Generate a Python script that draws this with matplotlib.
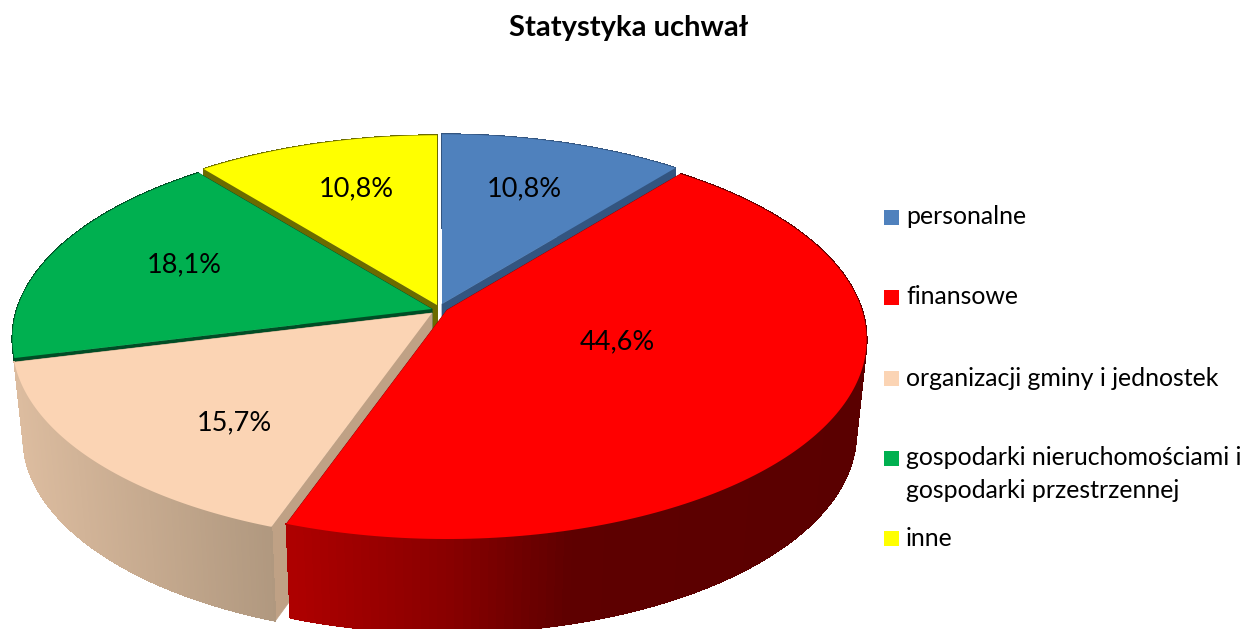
import numpy as np
import matplotlib
matplotlib.use("Agg")
import matplotlib.pyplot as plt
from matplotlib.collections import LineCollection, PolyCollection
from matplotlib.colors import to_rgb
from matplotlib.patches import Rectangle

# ── data ───────────────────────────────────────────────────────────────────────
TITLE = "Statystyka uchwał"
CATEGORIES = [
    "personalne",
    "finansowe",
    "organizacji gminy i jednostek",
    "gospodarki nieruchomościami i\ngospodarki przestrzennej",
    "inne",
]
VALUES = [10.8, 44.6, 15.7, 18.1, 10.8]

# ── styling ────────────────────────────────────────────────────────────────────
COLORS = ["#4F81BD", "#FF0000", "#FBD4B4", "#00B050", "#FFFF00"]
SIDE_COLORS = ["#335580", "#8A0000", "#BFA185", "#004D25", "#6B6B00"]
# outer wall shading: screen x stops, colours from left to right
WALL_STOPS = {
    1: ([288, 450, 570, 860], ["#AE0000", "#880000", "#5E0000", "#5A0000"]),
    2: ([15, 272], ["#DCBC9F", "#B0987F"]),
}
OFFSETS = [(5, -1), (10, 5), (-5, 8), (-5, 4), (0, 0)]   # slice shift in pixels
LABEL_POS = [(524, 189), (617, 342), (234, 423), (184, 265), (356, 189)]
LEGEND_Y = [217, 297, 378, 458, 538]
DRAW_ORDER = [4, 0, 3, 2, 1]   # back to front

CX, CY = 437, 305
A, B, K = 415, 195, 0.1485     # perspective ellipse
H = 94                         # wall height at the centre
BOTTOM_SX, BOTTOM_SY = 0.975, 1.0

plt.rcParams["font.family"] = ["Lato", "DejaVu Sans"]


def project(theta, r, i, bottom=False):
    u = r * np.sin(theta)
    v = r * np.cos(theta)
    w = 1 + K * v
    sx = BOTTOM_SX if bottom else 1.0
    sy = BOTTOM_SY if bottom else 1.0
    x = CX + OFFSETS[i][0] + sx * A * u / w
    y = CY + OFFSETS[i][1] - sy * B * v / w + (H if bottom else 0)
    return x, y


def wall_colors(i, xs):
    if i not in WALL_STOPS:
        return np.array([to_rgb(SIDE_COLORS[i])] * len(xs))
    stops, cols = WALL_STOPS[i]
    rgb = np.array([to_rgb(c) for c in cols])
    return np.column_stack([np.interp(xs, stops, rgb[:, n]) for n in range(3)])


def draw_slice(ax, i, t0, t1):
    theta = np.linspace(t0, t1, 160)
    xt, yt = project(theta, 1.0, i)
    xb, yb = project(theta, 1.0, i, bottom=True)
    apex_t = project(0.0, 0.0, i)
    apex_b = project(0.0, 0.0, i, bottom=True)

    # radial faces
    for n in (0, -1):
        ax.fill([apex_t[0], xt[n], xb[n], apex_b[0]],
                [apex_t[1], yt[n], yb[n], apex_b[1]],
                color=SIDE_COLORS[i], lw=0.5, zorder=2)

    # outer wall, cut into strips for the gradient (no AA or the seams show)
    quads = [[(xt[n], yt[n]), (xt[n + 1], yt[n + 1]), (xb[n + 1], yb[n + 1]), (xb[n], yb[n])]
             for n in range(len(theta) - 1)]
    cols = wall_colors(i, (xt[:-1] + xt[1:]) / 2)
    ax.add_collection(PolyCollection(quads, facecolors=cols, edgecolors=cols, linewidths=0.6,
                                     antialiaseds=False, zorder=2))
    # smooth lower rim
    rim = [[(xb[n], yb[n]), (xb[n + 1], yb[n + 1])] for n in range(len(theta) - 1)]
    ax.add_collection(LineCollection(rim, colors=cols, linewidths=1.0, zorder=2))

    # top
    ax.fill(np.r_[apex_t[0], xt], np.r_[apex_t[1], yt], color=COLORS[i], lw=0, zorder=2)


fig = plt.figure(figsize=(12.56, 6.29), dpi=100)
ax = fig.add_axes([0, 0, 1, 1])
ax.set_xlim(0, 1256)
ax.set_ylim(629, 0)
ax.axis("off")

edges = np.cumsum([0] + VALUES) / sum(VALUES) * 2 * np.pi
for i in DRAW_ORDER:
    draw_slice(ax, i, edges[i], edges[i + 1])

for val, (lx, ly) in zip(VALUES, LABEL_POS):
    ax.text(lx, ly, f"{val:.1f}%".replace(".", ","), ha="center", va="center",
            fontsize=19.5, color="black", zorder=5)

ax.text(629, 28, TITLE, ha="center", va="center", fontsize=21, fontweight="bold", color="black")

for name, col, ly in zip(CATEGORIES, COLORS, LEGEND_Y):
    ax.add_patch(Rectangle((884, ly - 7.5), 15, 15, facecolor=col, edgecolor="none"))
    multi = "\n" in name
    ax.text(906, ly + 16 if multi else ly, name, ha="left", va="center", fontsize=17.9,
            color="black", linespacing=1.5)

fig.savefig("out.png", dpi=100)
